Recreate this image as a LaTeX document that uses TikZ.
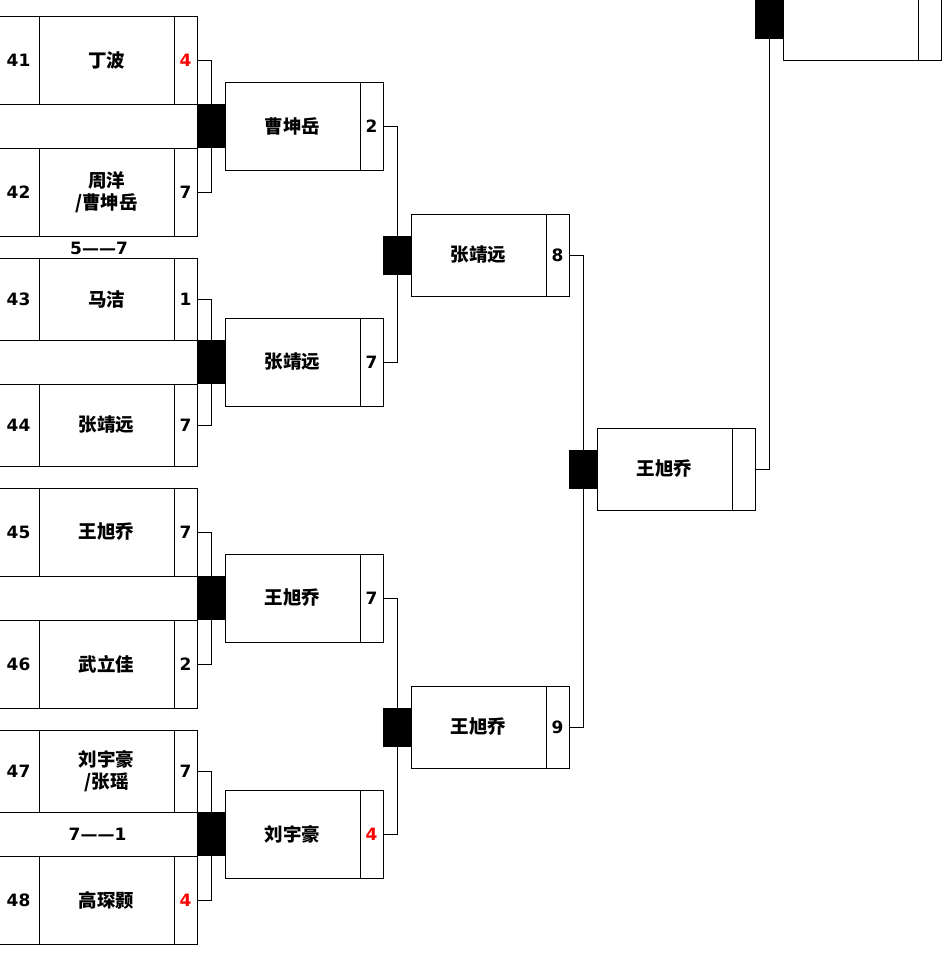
\documentclass[tikz,border=0pt]{standalone}
\usepackage{fontspec}
\setmainfont{DejaVu Sans}
\newfontfamily\cjk{Noto Sans CJK SC}
\usepackage{tikz}
\usetikzlibrary{positioning}

\begin{document}
\begin{tikzpicture}[
    x=1pt, y=-1pt, line width=0.9pt,
    every node/.style={inner sep=0pt, outer sep=0pt},
    cell/.style={draw, rectangle},
    seedcell/.style={cell, minimum width=41pt, font=\bfseries\fontsize{17}{20}\selectfont},
    namecell/.style={cell, minimum width=135pt, align=center, font=\cjk\bfseries\fontsize{18.5}{22}\selectfont},
    scorecell/.style={cell, minimum width=23pt, font=\bfseries\fontsize{17}{20}\selectfont},
    band/.style={cell, minimum width=199pt, minimum height=44pt, font=\bfseries\fontsize{17}{20}\selectfont},
    tally/.style={font=\bfseries\fontsize{17}{20}\selectfont},
    knob/.style={fill=black, minimum width=28pt},
    tall/.style={minimum height=88pt},
    short/.style={minimum height=82pt},
    lost/.style={text=red}
  ]
    \useasboundingbox (0,0) rectangle (943,959);
    \clip (0,0) rectangle (943,959);

    % first round
    \node[namecell, tall, anchor=north west] (n41) at (39,16) {丁波};
    \node[seedcell, tall, left=0pt of n41] (p41) {41};
    \node[scorecell, tall, lost, right=0pt of n41] (s41) {4};
    \node[band, anchor=north west] (bandA) at (-2,104) {};
    \node[namecell, tall, anchor=north west] (n42) at (39,148) {周洋\\/曹坤岳};
    \node[seedcell, tall, left=0pt of n42] (p42) {42};
    \node[scorecell, tall, right=0pt of n42] (s42) {7};
    \node[tally] (gapA) at (99,248) {5——7};

    \node[namecell, short, anchor=north west] (n43) at (39,258) {马洁};
    \node[seedcell, short, left=0pt of n43] (p43) {43};
    \node[scorecell, short, right=0pt of n43] (s43) {1};
    \node[band, anchor=north west] (bandB) at (-2,340) {};
    \node[namecell, short, anchor=north west] (n44) at (39,384) {张靖远};
    \node[seedcell, short, left=0pt of n44] (p44) {44};
    \node[scorecell, short, right=0pt of n44] (s44) {7};

    \node[namecell, tall, anchor=north west] (n45) at (39,488) {王旭乔};
    \node[seedcell, tall, left=0pt of n45] (p45) {45};
    \node[scorecell, tall, right=0pt of n45] (s45) {7};
    \node[band, anchor=north west] (bandC) at (-2,576) {};
    \node[namecell, tall, anchor=north west] (n46) at (39,620) {武立佳};
    \node[seedcell, tall, left=0pt of n46] (p46) {46};
    \node[scorecell, tall, right=0pt of n46] (s46) {2};

    \node[namecell, short, anchor=north west] (n47) at (39,730) {刘宇豪\\/张瑶};
    \node[seedcell, short, left=0pt of n47] (p47) {47};
    \node[scorecell, short, right=0pt of n47] (s47) {7};
    \node[band, anchor=north west] (bandD) at (-2,812) {7——1};
    \node[namecell, tall, anchor=north west] (n48) at (39,856) {高琛颢};
    \node[seedcell, tall, left=0pt of n48] (p48) {48};
    \node[scorecell, tall, lost, right=0pt of n48] (s48) {4};

    % second round
    \node[knob, minimum height=44pt, right=0pt of bandA] (kA) {};
    \node[namecell, tall, right=0pt of kA] (m1) {曹坤岳};
    \node[scorecell, tall, right=0pt of m1] (t1) {2};
    \node[knob, minimum height=44pt, right=0pt of bandB] (kB) {};
    \node[namecell, tall, right=0pt of kB] (m2) {张靖远};
    \node[scorecell, tall, right=0pt of m2] (t2) {7};
    \node[knob, minimum height=44pt, right=0pt of bandC] (kC) {};
    \node[namecell, tall, right=0pt of kC] (m3) {王旭乔};
    \node[scorecell, tall, right=0pt of m3] (t3) {7};
    \node[knob, minimum height=44pt, right=0pt of bandD] (kD) {};
    \node[namecell, tall, right=0pt of kD] (m4) {刘宇豪};
    \node[scorecell, tall, lost, right=0pt of m4] (t4) {4};

    % semi-final, final, winner
    \node[knob, minimum height=39pt] (kE) at (397,255) {};
    \node[namecell, short, right=0pt of kE] (q1) {张靖远};
    \node[scorecell, short, right=0pt of q1] (u1) {8};
    \node[knob, minimum height=39pt] (kF) at (397,727) {};
    \node[namecell, short, right=0pt of kF] (q2) {王旭乔};
    \node[scorecell, short, right=0pt of q2] (u2) {9};
    \node[knob, minimum height=39pt] (kG) at (583,469) {};
    \node[namecell, short, right=0pt of kG] (f1) {王旭乔};
    \node[scorecell, short, right=0pt of f1] (v1) {};
    \node[knob, minimum height=39pt] (kH) at (769,19) {};
    \node[namecell, short, right=0pt of kH] (w1) {};
    \node[scorecell, short, right=0pt of w1] (x1) {};

    \draw (s41.east) -| (kA.north);
    \draw (kA.south) |- (s42.east);
    \draw (s43.east) -| (kB.north);
    \draw (kB.south) |- (s44.east);
    \draw (s45.east) -| (kC.north);
    \draw (kC.south) |- (s46.east);
    \draw (s47.east) -| (kD.north);
    \draw (kD.south) |- (s48.east);
    \draw (t1.east) -| (kE.north);
    \draw (kE.south) |- (t2.east);
    \draw (t3.east) -| (kF.north);
    \draw (kF.south) |- (t4.east);
    \draw (u1.east) -| (kG.north);
    \draw (kG.south) |- (u2.east);
    \draw (v1.east) -| (kH.south);
  \end{tikzpicture}
\end{document}
